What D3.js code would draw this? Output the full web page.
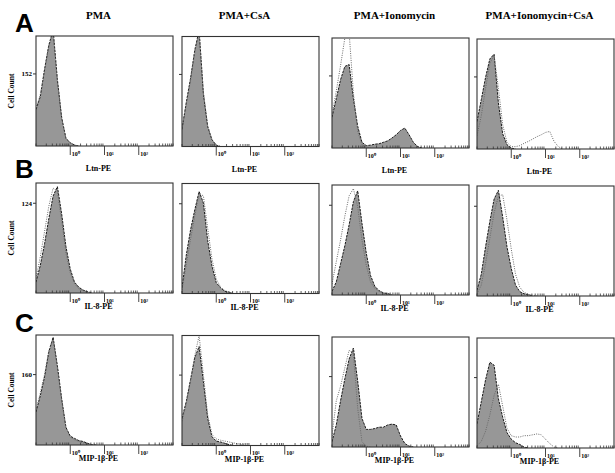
<!DOCTYPE html>
<html>
<head>
<meta charset="utf-8">
<script src="https://cdn.jsdelivr.net/npm/d3@7"></script>
<style>
  body { margin: 0; background: #fff; }
  svg { display: block; }
</style>
</head>
<body>
<svg id="fig" width="615" height="473"></svg>
<script>
// column / row labels
const conditions = ["PMA", "PMA+CsA", "PMA+Ionomycin", "PMA+Ionomycin+CsA"];
const rowLetters = ["A", "B", "C"];
const markers = ["Ltn-PE", "IL-8-PE", "MIP-1β-PE"];
const yTickValues = [152, 124, 160];
const yMaxValues = [232, 152, 250];
const decadeTicks = [1, 10, 100];
const decadeLabels = ["10⁰", "10¹", "10²"];

// log10 of bin centres (fluorescence channel)
const binExp = [-1, -0.875, -0.75, -0.625, -0.5, -0.375, -0.25, -0.125, 0, 0.125, 0.25, 0.375,
  0.5, 0.625, 0.75, 0.875, 1, 1.125, 1.25, 1.375, 1.5, 1.625, 1.75];

// cell counts per bin, one array per condition
const ltnFilled = [
  [77, 104, 162, 213, 245, 140, 60, 16, 7, 2, 0],
  [37, 93, 144, 204, 245, 111, 42, 14, 3, 0],
  [65, 104, 144, 172, 176, 104, 46, 12, 5, 6, 8, 9, 12, 15, 21, 28, 37, 42, 28, 12, 3, 0],
  [58, 104, 151, 190, 200, 97, 32, 9, 2, 0]
];
const ltnOpen = [
  [80, 108, 160, 210, 240, 135, 58, 15, 6, 2, 0],
  [35, 90, 140, 200, 240, 115, 44, 15, 3, 0],
  [70, 120, 174, 232, 244, 116, 35, 7, 2, 0],
  [28, 70, 128, 181, 197, 128, 51, 14, 5, 5, 7, 12, 16, 21, 26, 30, 35, 37, 16, 5, 0]
];
const il8Filled = [
  [15, 38, 68, 103, 134, 147, 109, 64, 33, 15, 8, 4, 2, 0],
  [8, 53, 88, 116, 141, 125, 73, 38, 15, 8, 3, 2, 0],
  [5, 18, 43, 68, 97, 129, 144, 99, 58, 27, 12, 6, 3, 2, 0],
  [8, 30, 68, 103, 134, 146, 109, 68, 38, 15, 6, 3, 2, 0]
];
const il8Open = [
  [20, 50, 85, 120, 145, 140, 100, 55, 28, 13, 6, 3, 1, 0],
  [5, 40, 75, 108, 138, 135, 90, 48, 20, 9, 4, 2, 0],
  [15, 46, 76, 109, 137, 147, 122, 76, 41, 18, 9, 5, 2, 0],
  [3, 15, 45, 80, 115, 138, 140, 105, 65, 30, 12, 5, 2, 1, 0]
];
const mipFilled = [
  [75, 112, 155, 212, 245, 180, 105, 40, 20, 15, 10, 8, 4, 1, 0],
  [62, 100, 150, 200, 225, 145, 62, 20, 10, 8, 5, 2, 0],
  [12, 50, 105, 155, 200, 225, 150, 65, 40, 40, 42, 45, 45, 50, 52, 50, 25, 8, 2, 0],
  [55, 105, 155, 195, 188, 112, 70, 35, 20, 12, 8, 2, 0]
];
const mipOpen = [
  [80, 118, 160, 215, 240, 175, 100, 38, 18, 12, 8, 5, 2, 1, 0],
  [55, 95, 148, 205, 250, 160, 70, 25, 15, 12, 10, 8, 6, 4, 2, 0],
  [25, 105, 138, 180, 220, 212, 88, 12, 2, 0],
  [5, 15, 38, 75, 120, 145, 95, 45, 28, 25, 25, 28, 28, 30, 32, 30, 20, 10, 2, 0]
];

const filledRows = [ltnFilled, il8Filled, mipFilled];
const openRows = [ltnOpen, il8Open, mipOpen];

// layout
const colLeft = [36, 182, 332, 477];
const colDy = [0, 0.5, 2, 3];
const rowTop = [36, 183, 335];
const labelGap = [25, 16, 16];
const pw = 137, ph = 110;

const svg = d3.select("#fig");
const serif = "'Liberation Serif', 'Times New Roman', serif";

// column titles
svg.selectAll("text.title")
  .data(conditions)
  .enter().append("text")
    .attr("class", "title")
    .attr("x", (d, i) => colLeft[i] + pw / 2 - 6)
    .attr("y", 19)
    .attr("text-anchor", "middle")
    .style("font-family", serif)
    .style("font-weight", "bold")
    .style("font-size", "11px")
    .text(d => d);

// row letters
svg.selectAll("text.letter")
  .data(rowLetters)
  .enter().append("text")
    .attr("class", "letter")
    .attr("x", 15)
    .attr("y", (d, i) => [32, 178, 332][i])
    .style("font-family", "'Liberation Sans', Arial, sans-serif")
    .style("font-weight", "bold")
    .style("font-size", "26px")
    .text(d => d);

const x = d3.scaleLog().domain([0.1, 1000]).range([0, pw]);

filledRows.forEach((row, r) => {
  const y = d3.scaleLinear().domain([0, yMaxValues[r]]).range([ph, 0]);

  // y axis title
  svg.append("text")
    .attr("transform", `translate(14, ${rowTop[r] + ph / 2}) rotate(-90)`)
    .attr("text-anchor", "middle")
    .style("font-family", serif)
    .style("font-weight", "bold")
    .style("font-size", "7.5px")
    .text("Cell Count");

  row.forEach((vals, c) => {
    const g = svg.append("g")
      .attr("transform", `translate(${colLeft[c]}, ${rowTop[r] + colDy[c]})`);

    const clipId = `clip-${r}-${c}`;
    g.append("clipPath").attr("id", clipId)
      .append("rect").attr("width", pw).attr("height", ph);

    const pts = vals.map((v, i) => [binExp[i], v]);
    const openPts = openRows[r][c].map((v, i) => [binExp[i], v]);

    const area = d3.area()
      .x(d => x(Math.pow(10, d[0])))
      .y0(ph)
      .y1(d => y(d[1]));
    const line = d3.line()
      .x(d => x(Math.pow(10, d[0])))
      .y(d => y(d[1]));

    const plot = g.append("g").attr("clip-path", `url(#${clipId})`);
    plot.append("path")
      .attr("d", area(pts))
      .attr("fill", "#979797");
    plot.append("path")
      .attr("d", line(pts))
      .attr("fill", "none")
      .attr("stroke", "#1a1a1a")
      .attr("stroke-width", 1)
      .attr("stroke-dasharray", "2.5,1");
    plot.append("path")
      .attr("d", line(openPts))
      .attr("fill", "none")
      .attr("stroke", "#6a6a6a")
      .attr("stroke-width", 1)
      .attr("stroke-dasharray", "1,1.3");

    // frame
    g.append("rect")
      .attr("width", pw)
      .attr("height", ph)
      .attr("fill", "none")
      .attr("stroke", "#333")
      .attr("stroke-width", 1.1);

    // minor ticks along the bottom
    const minor = x.ticks().filter(t => !decadeTicks.includes(t));
    g.selectAll("line.minor")
      .data(minor)
      .enter().append("line")
        .attr("class", "minor")
        .attr("x1", d => x(d)).attr("x2", d => x(d))
        .attr("y1", ph).attr("y2", ph - 2.5)
        .attr("stroke", "#333")
        .attr("stroke-width", 0.8);

    // decade ticks hang below the axis
    g.selectAll("line.major")
      .data(decadeTicks)
      .enter().append("line")
        .attr("class", "major")
        .attr("x1", d => x(d)).attr("x2", d => x(d))
        .attr("y1", ph).attr("y2", ph + 9)
        .attr("stroke", "#333")
        .attr("stroke-width", 0.9);
    g.selectAll("text.dec")
      .data(decadeTicks)
      .enter().append("text")
        .attr("class", "dec")
        .attr("x", d => x(d) + 1.5)
        .attr("y", ph + 9.5)
        .style("font-family", serif)
        .style("font-weight", "bold")
        .style("font-size", "6px")
        .text((d, i) => decadeLabels[i]);

    // y tick
    g.append("line")
      .attr("x1", -3).attr("x2", 0)
      .attr("y1", y(yTickValues[r])).attr("y2", y(yTickValues[r]))
      .attr("stroke", "#333");
    if (c === 0) {
      g.append("text")
        .attr("x", -4)
        .attr("y", y(yTickValues[r]) + 2.5)
        .attr("text-anchor", "end")
        .style("font-family", serif)
        .style("font-weight", "bold")
        .style("font-size", "7px")
        .text(yTickValues[r]);
    }

    // marker label
    g.append("text")
      .attr("x", pw / 2 - 6)
      .attr("y", ph + labelGap[r])
      .attr("text-anchor", "middle")
      .style("font-family", serif)
      .style("font-weight", "bold")
      .style("font-size", "8px")
      .text(markers[r]);
  });
});
</script>
</body>
</html>
